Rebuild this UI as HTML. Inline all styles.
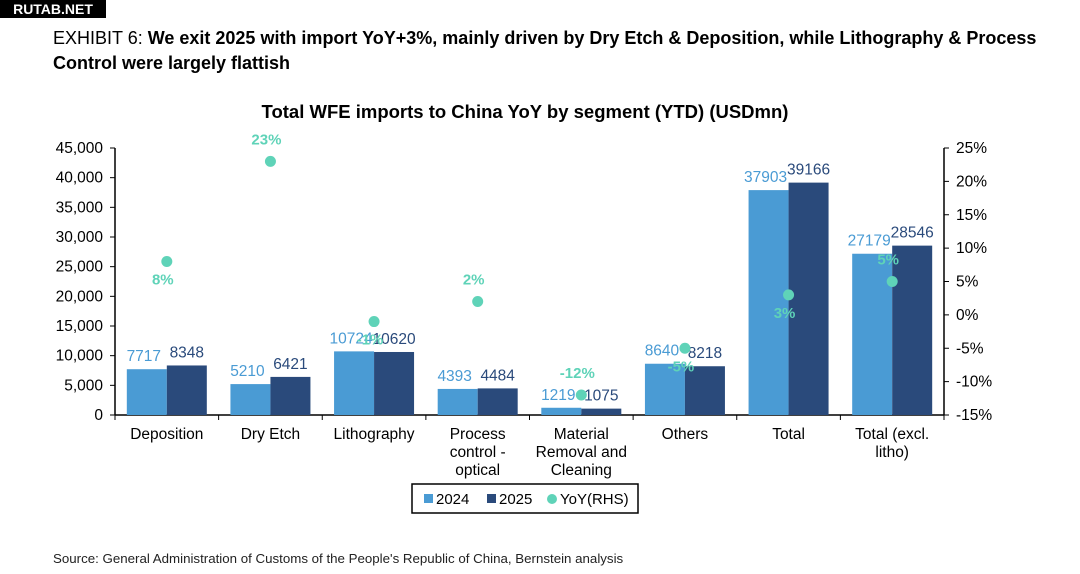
<!DOCTYPE html>
<html><head><meta charset="utf-8">
<style>
body{margin:0;background:#fff;width:1080px;height:574px;overflow:hidden;font-family:"Liberation Sans",sans-serif;}
#wm{position:absolute;left:0;top:0;width:106px;height:18px;background:#000;color:#fff;font-weight:bold;font-size:14px;line-height:18px;text-align:center;}
#ttl{position:absolute;left:53px;top:26px;font-size:18px;line-height:25px;color:#000;width:1010px;}
#src{position:absolute;left:53px;top:551px;font-size:13.3px;color:#222;}
svg{position:absolute;left:0;top:0;}
</style></head><body>
<div id="wm">RUTAB.NET</div>
<div id="ttl"><span style="font-weight:normal">EXHIBIT 6: </span><b>We exit 2025 with import YoY+3%, mainly driven by Dry Etch &amp; Deposition, while Lithography &amp; Process Control were largely flattish</b></div>
<div id="src">Source: General Administration of Customs of the People's Republic of China, Bernstein analysis</div>
<svg id="chart" width="1080" height="574"></svg>
<script>
const categories=[["Deposition"],["Dry Etch"],["Lithography"],["Process","control -","optical"],["Material","Removal and","Cleaning"],["Others"],["Total"],["Total (excl.","litho)"]];
const v2024=[7717,5210,10724,4393,1219,8640,37903,27179];
const v2025=[8348,6421,10620,4484,1075,8218,39166,28546];
const yoy=[8,23,-1,2,-12,-5,3,5];
const leftTicks=[0,5000,10000,15000,20000,25000,30000,35000,40000,45000];
const rightTicks=[-15,-10,-5,0,5,10,15,20,25];
// label placement: +1 below the dot, -1 above
const yoyLabelSide=[1,-1,1,-1,-1,1,1,-1];

const svg=document.getElementById('chart');
const NS='http://www.w3.org/2000/svg';
const X0=115,X1=944,Y0=415,Y1=148;
const cw=(X1-X0)/categories.length;
const yL=v=>Y0-(v/45000)*(Y0-Y1);
const yR=p=>Y0-((p+15)/40)*(Y0-Y1);
const cx=i=>X0+cw*(i+0.5);
function mk(tag,attrs,txt){const e=document.createElementNS(NS,tag);for(const k in attrs)e.setAttribute(k,attrs[k]);if(txt!==undefined)e.textContent=txt;svg.appendChild(e);return e;}

let t=mk('text',{x:525,y:118,'text-anchor':'middle','font-size':18.5,'font-weight':'bold',fill:'#000'},'Total WFE imports to China YoY by segment (YTD) (USDmn)');



let a=mk('line',{x1:X0,y1:Y1,x2:X0,y2:Y0,stroke:'#000','stroke-width':1.5});


a=mk('line',{x1:X1,y1:Y1,x2:X1,y2:Y0,stroke:'#000','stroke-width':1.5});


a=mk('line',{x1:X0,y1:Y0,x2:X1,y2:Y0,stroke:'#000','stroke-width':1.5});



leftTicks.forEach(v=>{
  const y=yL(v);
  mk('line',{x1:X0-5,y1:y,x2:X0,y2:y,stroke:'#000'});
  const e=mk('text',{x:103,y:y+5,'text-anchor':'end','font-size':15.5,fill:'#000'},v.toLocaleString('en-US'));
  
  
});
rightTicks.forEach(v=>{
  const y=yR(v);
  mk('line',{x1:X1,y1:y,x2:X1+5,y2:y,stroke:'#000'});
  const e=mk('text',{x:956,y:y+5,'font-size':15.5,fill:'#000'},v+'%');
  
  
});
for(let i=0;i<=categories.length;i++){
  const x=X0+cw*i;
  mk('line',{x1:x,y1:Y0,x2:x,y2:Y0+5,stroke:'#000'});
}
const bw=40;
categories.forEach((c,i)=>{
  const x=cx(i);
  let b=mk('rect',{x:x-bw,y:yL(v2024[i]),width:bw,height:Y0-yL(v2024[i]),fill:'#4a9bd4'});
  
  
  b=mk('rect',{x:x,y:yL(v2025[i]),width:bw,height:Y0-yL(v2025[i]),fill:'#2a4a7b'});
  
  
  let l=mk('text',{x:x-bw/2-3,y:yL(v2024[i])-8,'text-anchor':'middle','font-size':15.5,fill:'#4a9bd4'},v2024[i]);
  
  
  l=mk('text',{x:x+bw/2,y:yL(v2025[i])-8,'text-anchor':'middle','font-size':15.5,fill:'#2a4a7b'},v2025[i]);
  
  
  c.forEach((s,j)=>{
    const e=mk('text',{x:x,y:439+j*18,'text-anchor':'middle','font-size':15.5,fill:'#000'},s);
    
    
  });
});
yoy.forEach((p,i)=>{
  const x=cx(i),y=yR(p);
  const d=mk('circle',{cx:x,cy:y,r:5.5,fill:'#5fd3b8'});
  
  
  const ly=yoyLabelSide[i]>0?y+23:y-17;
  const e=mk('text',{x:x-4,y:ly,'text-anchor':'middle','font-size':15,'font-weight':'bold',fill:'#5fd3b8'},p+'%');
  
  
});

const lg=mk('rect',{x:412,y:484,width:226,height:29,fill:'#fff',stroke:'#000','stroke-width':1.5});


mk('rect',{x:424,y:494,width:9,height:9,fill:'#4a9bd4'});
let le=mk('text',{x:436,y:504,'font-size':15,fill:'#000'},'2024');


mk('rect',{x:487,y:494,width:9,height:9,fill:'#2a4a7b'});
le=mk('text',{x:499,y:504,'font-size':15,fill:'#000'},'2025');


mk('circle',{cx:552,cy:499,r:5,fill:'#5fd3b8'});
le=mk('text',{x:560,y:504,'font-size':15,fill:'#000'},'YoY(RHS)');


</script>
</body></html>
